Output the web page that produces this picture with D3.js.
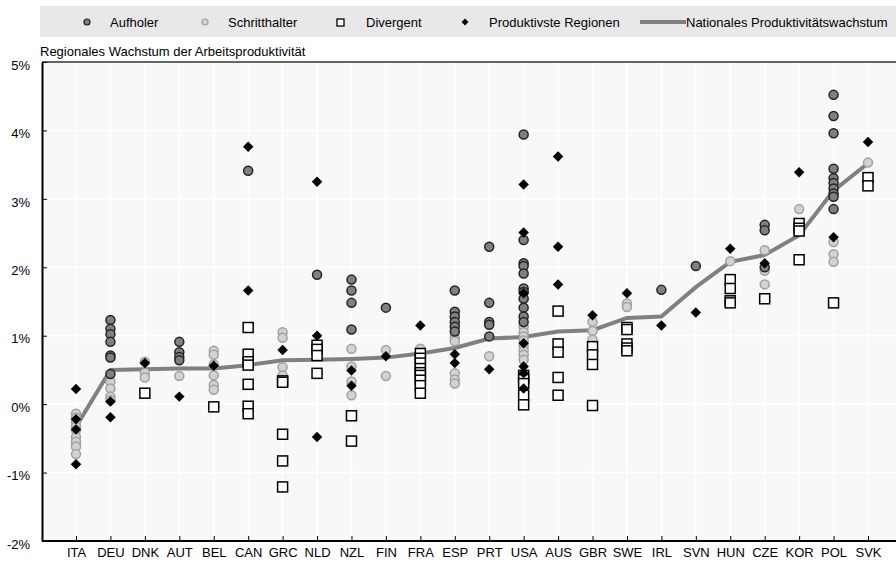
<!DOCTYPE html>
<html>
<head>
<meta charset="utf-8">
<script src="https://cdn.jsdelivr.net/npm/d3@7"></script>
<style>
  body { margin: 0; background: #fff; }
  svg text { font-family: "Liberation Sans Narrow", "Arial Narrow", "Liberation Sans", sans-serif; fill: #000; }
  .axis path, .axis line { stroke: #000; }
</style>
</head>
<body>
<div class="chart"></div>
<script>
// countries on the x axis
const countries = ['ITA','DEU','DNK','AUT','BEL','CAN','GRC','NLD','NZL','FIN','FRA','ESP',
                   'PRT','USA','AUS','GBR','SWE','IRL','SVN','HUN','CZE','KOR','POL','SVK'];

// national productivity growth (%)
const national = [-0.33, 0.5, 0.51, 0.52, 0.52, 0.57, 0.64, 0.65, 0.66, 0.68, 0.74, 0.82,
                  0.96, 0.98, 1.06, 1.08, 1.26, 1.28, 1.71, 2.08, 2.18, 2.47, 3.12, 3.52];

// regional values, one list per country (same order as countries)
const aufholer = [
  [], [1.23, 1.1, 1.02, 0.91, 0.71, 0.68, 0.44], [], [0.91, 0.76, 0.69, 0.64], [],
  [3.41], [], [1.89], [1.82, 1.66, 1.48, 1.09], [1.41], [],
  [1.66, 1.35, 1.28, 1.2, 1.13, 1.06], [2.3, 1.48, 1.2, 1.16, 0.99],
  [3.94, 2.4, 2.06, 2.02, 1.91, 1.69, 1.64, 1.54, 1.41, 1.28, 1.2], [], [], [],
  [1.67], [2.02], [], [2.62, 2.54, 2.0], [],
  [4.52, 4.21, 3.96, 3.44, 3.3, 3.23, 3.15, 3.08, 3.03, 2.85], []
];
const schritthalter = [
  [-0.14, -0.2, -0.26, -0.33, -0.38, -0.48, -0.55, -0.62, -0.73], [0.33, 0.23, 0.11, 0.06],
  [0.62, 0.46, 0.39], [0.41], [0.78, 0.72, 0.58, 0.42, 0.28, 0.21], [],
  [1.05, 0.97, 0.54, 0.42], [], [0.81, 0.55, 0.33, 0.13], [0.79, 0.41], [0.81],
  [0.97, 0.92, 0.45, 0.36, 0.3], [0.7],
  [1.13, 1.05, 0.99, 0.93, 0.85, 0.78, 0.72, 0.65], [], [1.2, 1.07, 0.94],
  [1.47, 1.42], [], [], [2.09], [2.25, 1.95, 1.75], [2.85], [2.37, 2.19, 2.08], [3.53]
];
const divergent = [
  [], [], [0.16], [], [-0.04], [1.12, 0.73, 0.62, 0.57, 0.29, -0.03, -0.14],
  [0.34, 0.32, -0.44, -0.83, -1.21], [0.86, 0.8, 0.71, 0.45], [-0.17, -0.54], [],
  [0.74, 0.67, 0.6, 0.52, 0.46, 0.42, 0.35, 0.27, 0.16], [], [],
  [0.42, 0.36, 0.3, 0.13, -0.01], [1.36, 0.88, 0.76, 0.39, 0.13],
  [0.84, 0.72, 0.58, -0.02], [1.12, 1.09, 0.88, 0.82, 0.78], [], [],
  [1.82, 1.69, 1.51, 1.48], [1.54], [2.64, 2.57, 2.53, 2.11], [1.48], [3.31, 3.19]
];
const produktivste = [
  [0.22, -0.22, -0.37, -0.88], [0.04, -0.19], [0.6], [0.11], [0.56], [3.76, 1.66],
  [0.79], [3.25, 1.0, -0.48], [0.49, 0.27], [0.7], [1.15], [0.73, 0.6], [0.51],
  [3.21, 2.51, 1.62, 0.89, 0.55, 0.45, 0.23], [3.62, 2.3, 1.75], [1.3], [1.62],
  [1.15], [1.34], [2.27], [2.06], [3.39], [2.44], [3.83]
];

const width = 896, height = 563;
const plot = {left: 42, right: 896, top: 62, bottom: 541};

const svg = d3.select('.chart').append('svg')
    .attr('width', width)
    .attr('height', height);

const x = d3.scalePoint().domain(countries).range([76, 868]);
const y = d3.scaleLinear().domain([-2, 5]).range([plot.bottom, plot.top]);

const flat = arr => arr.flatMap((vals, i) => vals.map(v => ({c: countries[i], v: v})));

// legend band
svg.append('rect')
    .attr('x', 40).attr('y', 6)
    .attr('width', width - 40).attr('height', 31)
    .attr('fill', '#e8e8e8');

// plot background + grid
svg.append('rect')
    .attr('x', plot.left).attr('y', plot.top)
    .attr('width', plot.right - plot.left).attr('height', plot.bottom - plot.top)
    .attr('fill', '#f8f8f8');

svg.append('g').selectAll('line')
    .data(y.ticks(7))
    .enter().append('line')
    .attr('x1', plot.left).attr('x2', plot.right)
    .attr('y1', d => y(d)).attr('y2', d => y(d))
    .attr('stroke', '#fff').attr('stroke-width', 1.5);

svg.append('g').selectAll('line')
    .data(countries)
    .enter().append('line')
    .attr('x1', d => x(d)).attr('x2', d => x(d))
    .attr('y1', plot.top).attr('y2', plot.bottom)
    .attr('stroke', '#fff').attr('stroke-width', 1.5);

// top border
svg.append('line')
    .attr('x1', plot.left).attr('x2', plot.right)
    .attr('y1', plot.top).attr('y2', plot.top)
    .attr('stroke', '#333').attr('stroke-width', 1.5);

// axes
const yAxis = d3.axisLeft(y).ticks(7).tickSizeInner(-5).tickSizeOuter(0).tickPadding(12)
    .tickFormat(d => d + '%');
const xAxis = d3.axisBottom(x).tickSizeInner(-5).tickSizeOuter(0).tickPadding(12);

svg.append('g')
    .attr('class', 'axis y-axis')
    .attr('transform', 'translate(' + plot.left + ',0)')
    .call(yAxis)
    .call(g => g.select('.domain').attr('stroke-width', 2))
    .call(g => g.selectAll('text').attr('font-size', 13).attr('dy', '0.55em'));

svg.append('g')
    .attr('class', 'axis x-axis')
    .attr('transform', 'translate(0,' + plot.bottom + ')')
    .call(xAxis)
    .call(g => g.select('.domain').attr('d', 'M' + plot.left + ',0H' + plot.right).attr('stroke-width', 2))
    .call(g => g.selectAll('text').attr('font-size', 13).attr('dy', '0.3em'));

// title
svg.append('text')
    .attr('x', 40).attr('y', 56)
    .attr('font-size', 13)
    .text('Regionales Wachstum der Arbeitsproduktivität');

// national line
svg.append('path')
    .datum(national)
    .attr('fill', 'none')
    .attr('stroke', '#808080')
    .attr('stroke-width', 4)
    .attr('d', d3.line().x((d, i) => x(countries[i])).y(d => y(d)));

// markers
const square = 10, diamond = d3.symbol().type(d3.symbolDiamond2).size(70);

svg.append('g').selectAll('circle')
    .data(flat(schritthalter))
    .enter().append('circle')
    .attr('cx', d => x(d.c)).attr('cy', d => y(d.v)).attr('r', 4.5)
    .attr('fill', '#d2d2d2').attr('stroke', '#a0a0a0').attr('stroke-width', 1.5);

svg.append('g').selectAll('circle')
    .data(flat(aufholer))
    .enter().append('circle')
    .attr('cx', d => x(d.c)).attr('cy', d => y(d.v)).attr('r', 4.5)
    .attr('fill', '#808080').attr('stroke', '#222').attr('stroke-width', 1.5);

svg.append('g').selectAll('rect')
    .data(flat(divergent))
    .enter().append('rect')
    .attr('x', d => x(d.c) - square / 2).attr('y', d => y(d.v) - square / 2)
    .attr('width', square).attr('height', square)
    .attr('fill', '#fff').attr('stroke', '#000').attr('stroke-width', 1.5);

svg.append('g').selectAll('path')
    .data(flat(produktivste))
    .enter().append('path')
    .attr('transform', d => 'translate(' + x(d.c) + ',' + y(d.v) + ')')
    .attr('d', diamond)
    .attr('fill', '#000');

// legend items
const legendY = 22;
const lg = svg.append('g').attr('font-size', 13);

lg.append('circle').attr('cx', 87).attr('cy', legendY).attr('r', 3)
    .attr('fill', '#808080').attr('stroke', '#222').attr('stroke-width', 1.2);
lg.append('text').attr('x', 110).attr('y', legendY).attr('dy', '0.35em').text('Aufholer');

lg.append('circle').attr('cx', 205).attr('cy', legendY).attr('r', 3)
    .attr('fill', '#d2d2d2').attr('stroke', '#a0a0a0').attr('stroke-width', 1.2);
lg.append('text').attr('x', 228).attr('y', legendY).attr('dy', '0.35em').text('Schritthalter');

lg.append('rect').attr('x', 337).attr('y', legendY - 3).attr('width', 7).attr('height', 7)
    .attr('fill', '#fff').attr('stroke', '#000').attr('stroke-width', 1.3);
lg.append('text').attr('x', 366).attr('y', legendY).attr('dy', '0.35em').text('Divergent');

lg.append('path').attr('transform', 'translate(465,' + legendY + ')')
    .attr('d', d3.symbol().type(d3.symbolDiamond2).size(30)).attr('fill', '#000');
lg.append('text').attr('x', 489).attr('y', legendY).attr('dy', '0.35em').text('Produktivste Regionen');

lg.append('line').attr('x1', 640).attr('x2', 686).attr('y1', legendY).attr('y2', legendY)
    .attr('stroke', '#808080').attr('stroke-width', 4);
lg.append('text').attr('x', 686).attr('y', legendY).attr('dy', '0.35em').text('Nationales Produktivitätswachstum');
</script>
</body>
</html>
